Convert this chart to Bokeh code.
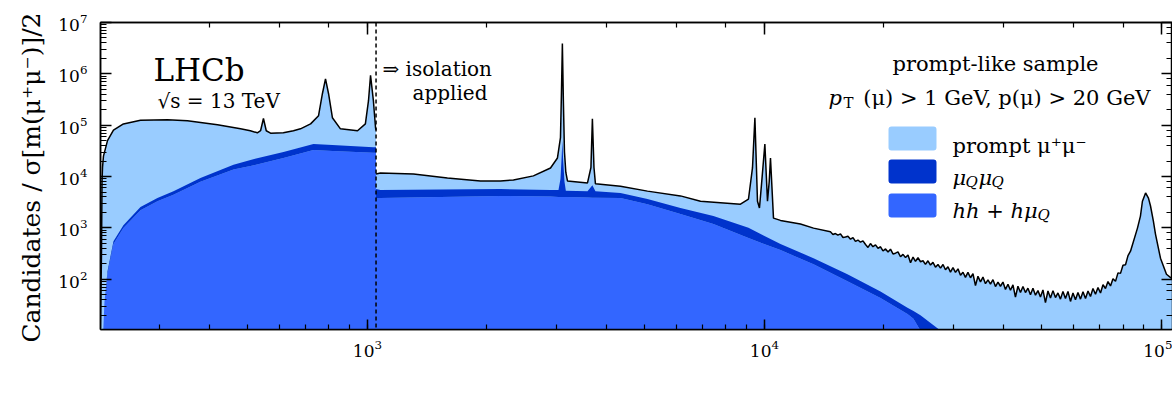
import numpy as np
from bokeh.plotting import figure
from bokeh.models import LogAxis, Span, Label, BoxAnnotation, CustomJSTickFormatter, Title
from bokeh.embed import file_html
from bokeh.resources import INLINE

# ---------------- data ----------------
# prompt-like sample, total candidates, below the isolation cut (MeV)
mass_tot_lo = [212.6, 213.8, 214.5, 215.1, 216.3, 221.4, 229.2, 242.8, 268.1, 313.5, 352, 419,
               479, 507, 528, 538, 547, 556, 570, 614, 651, 678, 719, 753, 770, 784, 798,
               816, 855, 944, 988, 1006, 1018, 1035, 1048, 1051]
cand_tot_lo = [11, 300, 8000, 15000, 25000, 50000, 80000, 106000, 125000, 127000, 122000, 102000,
               85000, 78000, 71000, 78000, 135000, 78000, 70000, 71000, 78000, 85000, 106000,
               153000, 410000, 800000, 410000, 140000, 85000, 78000, 106000, 300000, 940000,
               300000, 89000, 80000]

# total candidates above the isolation cut: resonances
mass_tot_hi = [1051, 1078, 1306, 1590, 1926, 2163, 2332, 2618, 2891, 3010, 3063, 3080, 3097,
               3115, 3135, 3160, 3190, 3583, 3655, 3686, 3720, 3752, 4338, 5073, 6143, 6901,
               8700, 9114, 9328, 9460, 9603, 9714, 9832, 10023, 10176, 10280, 10355, 10537,
               10973, 12320, 13290]
cand_tot_hi = [11200, 11700, 11200, 9400, 8200, 8200, 8600, 10300, 14700, 23000, 57000, 400000,
               3900000, 300000, 30000, 12000, 8200, 7500, 15000, 133000, 15000, 7200, 6500,
               5200, 4200, 3300, 2900, 3650, 14700, 140000, 3300, 2440, 7200, 43000, 3300,
               8000, 23000, 1550, 1400, 1190, 990]

# total candidates, high-mass continuum (statistically noisy) and the Z peak
mass_tot_z = [14660, 14874, 15090, 15310, 15540, 15767, 15995, 16229, 16470, 16710,
              16950, 17197, 17450, 17705, 17970, 18232, 18490, 18760, 19040, 19318,
              19600, 19886, 20180, 20475, 20770, 21073, 21380, 21692, 22010, 22331,
              22660, 22991, 23330, 23671, 24010, 24361, 24720, 25081, 25440, 25811,
              26190, 26572, 26960, 27354, 27760, 28165, 28570, 28987, 29410, 29839,
              30280, 30722, 31170, 31625, 32080, 32548, 33030, 33512, 34000, 34496,
              35000, 35511, 36030, 36556, 37090, 37632, 38180, 38737, 39300, 39874,
              40460, 41051, 41650, 42258, 42870, 43496, 44140, 44784, 45430, 46093,
              46770, 47453, 48150, 48853, 49560, 50284, 51020, 51765, 52530, 53297,
              54070, 54859, 55660, 56473, 57300, 58137, 58990, 59851, 60720, 61607,
              62520, 63433, 64360, 65300, 66250, 67217, 68200, 69196, 70210, 71235,
              72270, 73325, 74400, 75486, 76590, 77708, 78840, 79991, 81170, 82355,
              83560, 87000, 88510, 89540, 91190, 92730, 93840, 95410, 96580, 99430,
              102940, 106600]
cand_tot_z = [839, 743, 777, 723, 764, 649, 664, 688, 604, 649,
              545, 580, 526, 560, 476, 416, 496, 431, 468, 401,
              429, 355, 389, 338, 385, 311, 322, 341, 274, 305,
              264, 297, 210, 271, 224, 262, 219, 229, 195, 229,
              189, 213, 172, 194, 165, 194, 153, 175, 138, 169,
              136, 159, 120, 137, 109, 136, 107, 128, 75, 114,
              89, 110, 82, 97, 80, 98, 72, 88, 73, 88,
              63, 80, 61, 78, 45, 73, 55, 72, 55, 67,
              50, 67, 49, 60, 45, 62, 35, 59, 43, 60,
              44, 54, 41, 58, 42, 58, 37, 54, 40, 55,
              41, 57, 42, 59, 46, 66, 51, 69, 54, 78,
              66, 90, 74, 102, 91, 133, 130, 188, 192, 288,
              352, 990, 1700, 3300, 4800, 3800, 2670, 1360, 757, 257,
              125, 100]

# backgrounds below the isolation cut
mass_bkg_lo = [216, 217.6, 221.4, 229.2, 242.8, 268.1, 295.8, 324.6, 379.6, 459.8, 507.4,
               614.4, 731.1, 816, 1035, 1051]
hh_lo = [10, 37, 125, 483, 990, 2200, 3300, 4400, 7900, 13700, 16000, 23000, 33000, 31600,
         29000, 29000]
qq_lo = [0, 0, 18, 69, 140, 350, 500, 800, 1500, 3200, 5100, 7200, 10000, 9400, 8000, 8000]

# backgrounds above the isolation cut
mass_bkg_hi = [1051, 1078, 2163, 2891, 3028, 3063, 3085, 3097, 3110, 3135, 3160, 3583, 3686,
               3752, 4338, 5073, 6143, 7437, 9114, 10973, 13290, 16180, 19600, 22920, 23730,
               24710, 27760, 29000]
hh_hi = [3800, 3800, 4200, 4100, 4000, 4000, 4000, 4000, 4000, 4000, 4000, 3900, 3850, 3850,
         3800, 2900, 1860, 1190, 632, 369, 196, 91, 43, 21, 17, 10, 3, 2]
qq_hi = [1900, 1700, 1500, 1400, 1500, 5000, 21000, 46000, 18000, 4000, 1300, 1300, 2950,
         1350, 1000, 750, 580, 510, 370, 114, 61, 34, 15, 7, 7, 10, 7, 3]

isolation_cut = 1051

LIGHT = "#99ccff"
DARK = "#0033cc"
MID = "#3366ff"
FONT = "DejaVu Serif"

mass_hi_all = mass_tot_hi + mass_tot_z
cand_hi_all = cand_tot_hi + cand_tot_z

# ---------------- figure ----------------
p = figure(width=1172, height=393, x_axis_type="log", y_axis_type="log",
           x_range=(212.6, 106600), y_range=(10.5, 1e7),
           output_backend="svg", toolbar_location=None,
           min_border_left=100, min_border_top=22, min_border_bottom=64, min_border_right=0)
p.grid.visible = False
p.outline_line_color = "black"
p.outline_line_width = 1.5
p.background_fill_color = "white"
p.border_fill_color = "white"

FLOOR = 1.0
p.varea(x=mass_tot_lo, y1=FLOOR, y2=cand_tot_lo, fill_color=LIGHT)
p.varea(x=mass_hi_all, y1=FLOOR, y2=cand_hi_all, fill_color=LIGHT)

hh_lo_a = np.array(hh_lo, float)
hh_hi_a = np.array(hh_hi, float)
p.varea(x=mass_bkg_lo, y1=FLOOR, y2=hh_lo_a, fill_color=MID)
p.varea(x=mass_bkg_hi, y1=FLOOR, y2=hh_hi_a, fill_color=MID)
p.varea(x=mass_bkg_lo, y1=hh_lo_a, y2=hh_lo_a + np.array(qq_lo, float), fill_color=DARK)
p.varea(x=mass_bkg_hi, y1=hh_hi_a, y2=hh_hi_a + np.array(qq_hi, float), fill_color=DARK)

p.line(mass_tot_lo, cand_tot_lo, line_color="black", line_width=1.5)
p.line(mass_hi_all, cand_hi_all, line_color="black", line_width=1.5)

p.add_layout(Span(location=isolation_cut, dimension="height", line_color="black",
                  line_dash="4 3", line_width=1.5))

# ---------------- axes ----------------
def style_axis(ax, major_in, minor_in, labels=True):
    ax.axis_line_color = "black"
    ax.axis_line_width = 1.5
    ax.major_tick_in = major_in
    ax.major_tick_out = 0
    ax.minor_tick_in = minor_in
    ax.minor_tick_out = 0
    ax.major_tick_line_width = 1.5
    ax.minor_tick_line_width = 1.2
    ax.major_tick_line_color = "black"
    ax.minor_tick_line_color = "black"
    if labels:
        ax.major_label_text_font = FONT
        ax.major_label_text_font_size = "17px"
        ax.major_label_text_color = "black"
    else:
        ax.formatter = CustomJSTickFormatter(code="return ''")
        ax.major_label_text_font_size = "1px"
        ax.major_label_text_color = None
        ax.major_label_standoff = 0

style_axis(p.xaxis[0], 10, 5)
p.xaxis[0].major_label_standoff = 10
style_axis(p.yaxis[0], 11, 6)
p.yaxis[0].major_label_standoff = 13

top = LogAxis()
style_axis(top, 12, 5, labels=False)
p.add_layout(top, "above")
right = LogAxis()
style_axis(right, 11, 6, labels=False)
p.add_layout(right, "right")

# y-axis title: a side title, aligned with the top end of the frame
YLABEL = "Candidates / \u03c3[m(\u03bc\u207a\u03bc\u207b)]/2"
p.add_layout(Title(text=YLABEL, align="right", offset=-10, text_font=FONT,
                   text_font_size="25px", text_font_style="normal", text_color="black",
                   standoff=20), "left")

# ---------------- texts (screen units relative to the frame) ----------------
def txt(x, y, s, size, style="normal", align="left"):
    p.add_layout(Label(x=x, y=y, x_units="screen", y_units="screen", text=s,
                       text_font=FONT, text_font_size=size, text_font_style=style,
                       text_align=align, text_baseline="alphabetic",
                       text_color="black"))

txt(53, 260, "LHCb", "31px")
txt(57, 229, "\u221as = 13 TeV", "20px")
txt(282, 261, "\u21d2 isolation", "20px")
txt(312, 237, "applied", "20px")

txt(895, 266, "prompt-like sample", "21px", align="center")
txt(728, 232, "p", "21px", style="italic")
txt(743, 227, "T", "15px")
txt(1050, 232, "(\u03bc) > 1 GeV, p(\u03bc) > 20 GeV", "21px", align="right")

for top_, bot_, col in [(203, 179, LIGHT), (170, 146, DARK), (136, 112, MID)]:
    p.add_layout(BoxAnnotation(left=788, right=836, top=top_, bottom=bot_,
                               left_units="screen", right_units="screen",
                               top_units="screen", bottom_units="screen",
                               fill_color=col, fill_alpha=1.0, line_color=None,
                               border_radius=3))
txt(852, 184, "prompt \u03bc\u207a\u03bc\u207b", "21px")
txt(852, 152, "\u03bc", "21px", style="italic")
txt(865, 148, "Q", "15px", style="italic")
txt(878, 152, "\u03bc", "21px", style="italic")
txt(891, 148, "Q", "15px", style="italic")
txt(852, 119, "hh + h\u03bc", "21px", style="italic")
txt(937, 115, "Q", "15px", style="italic")

# x-axis title (right-aligned under the axis)
txt(1068, -50, "m(\u03bc\u207a\u03bc\u207b)  [MeV]", "25px", align="right")

open("out.html", "w").write(file_html(p, INLINE))
